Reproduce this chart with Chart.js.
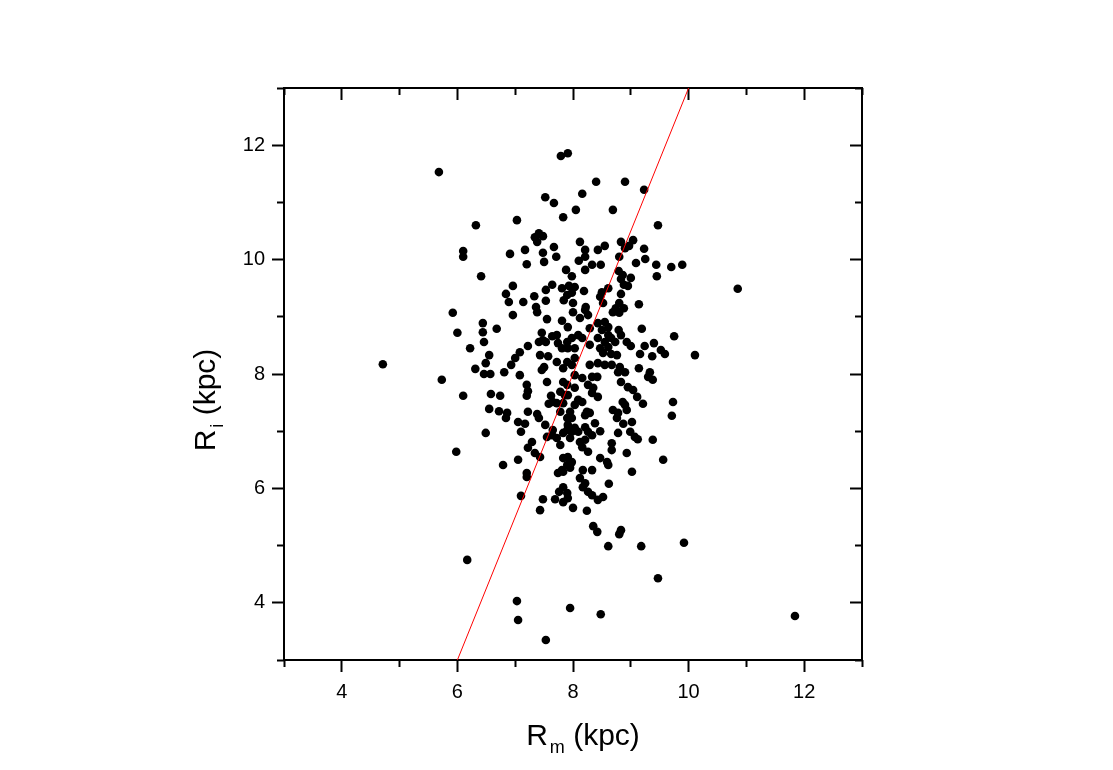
<!DOCTYPE html>
<html>
<head>
<meta charset="utf-8">
<script src="https://cdn.jsdelivr.net/npm/chart.js@4.4.0/dist/chart.umd.min.js"></script>
<style>
  html, body { margin: 0; padding: 0; background: #fff; }
</style>
</head>
<body>
<canvas id="scatterGraph" width="1113" height="770"></canvas>
<script>
// R_m values (x) and R_i values (y)
const rmValues = [
	5.68, 7.79, 7.91, 7.52, 7.67, 7.83, 6.32, 7.03, 7.41, 7.34,
	7.48, 7.38, 6.10, 6.10, 6.91, 7.17, 7.48, 7.67, 7.71, 7.20,
	7.50, 7.88, 6.41, 6.96, 6.84, 6.89, 7.14, 7.33, 7.36, 7.53,
	7.64, 7.53, 7.81, 7.90, 7.84, 8.40, 8.90, 9.23, 8.16, 8.05,
	8.69, 9.47, 8.12, 8.21, 8.21, 8.43, 8.55, 8.83, 9.04, 8.97,
	8.90, 9.23, 8.80, 9.09, 9.25, 8.10, 8.33, 8.48, 8.21, 9.44,
	9.70, 9.89, 9.45, 7.98, 8.79, 8.86, 9.00, 8.83, 8.88, 8.95,
	7.93, 8.03, 7.98, 8.19, 8.61, 8.50, 8.47, 8.83, 8.80, 8.74,
	9.14, 8.22, 8.52, 8.00, 5.92, 6.96, 7.38, 7.55, 7.81, 6.44,
	6.44, 6.68, 6.00, 7.46, 7.48, 7.64, 7.72, 7.41, 7.53, 6.46,
	6.22, 7.22, 7.08, 7.00, 6.55, 7.43, 7.57, 7.74, 7.81, 7.90,
	6.49, 6.93, 7.50, 7.46, 7.72, 7.83, 7.90, 6.31, 6.46, 6.57,
	6.81, 7.08, 5.73, 7.55, 7.20, 7.22, 7.20, 7.83, 7.90, 6.10,
	6.58, 6.74, 7.62, 7.65, 7.58, 7.72, 7.78, 7.86, 7.83, 6.55,
	6.72, 6.86, 6.84, 7.22, 7.38, 7.41, 7.78, 7.90, 7.05, 7.17,
	7.52, 6.49, 7.10, 7.65, 7.64, 7.55, 7.72, 7.90, 7.83, 7.29,
	7.22, 7.34, 7.43, 7.78, 5.98, 7.05, 7.83, 7.90, 7.81, 7.74,
	6.79, 7.20, 8.00, 8.12, 8.21, 8.26, 8.80, 8.88, 8.69, 7.91,
	8.09, 7.98, 8.16, 8.29, 8.43, 8.55, 8.61, 8.50, 8.79, 8.83,
	8.61, 9.19, 9.75, 8.43, 8.55, 8.66, 8.73, 8.29, 8.47, 8.61,
	8.52, 8.66, 8.76, 8.93, 9.00, 9.24, 9.40, 9.52, 9.59, 9.16,
	9.37, 10.11, 7.91, 8.03, 8.03, 7.98, 8.29, 8.43, 8.55, 8.67,
	8.81, 8.78, 8.90, 9.14, 9.33, 9.30, 9.38, 8.03, 8.16, 8.33,
	8.42, 8.26, 8.35, 8.33, 8.43, 8.83, 8.95, 9.04, 9.11, 8.03,
	7.91, 8.09, 8.03, 8.16, 9.21, 9.73, 8.86, 8.90, 8.69, 8.78,
	8.93, 7.95, 7.98, 8.24, 8.29, 8.21, 9.71, 8.76, 9.02, 8.87,
	7.91, 8.03, 8.09, 7.98, 8.21, 8.26, 8.38, 8.47, 8.33, 8.78,
	8.99, 9.07, 9.12, 7.95, 8.12, 8.21, 8.67, 8.67, 8.16, 8.26,
	9.38, 8.93, 7.91, 7.98, 8.47, 8.59, 8.61, 9.56, 7.95, 8.17,
	8.33, 9.02, 7.20, 7.10, 7.48, 7.43, 7.83, 7.83, 7.76, 7.90,
	7.69, 7.83, 7.91, 6.17, 7.03, 7.05, 7.53, 7.95, 8.12, 8.21,
	8.17, 8.26, 8.33, 8.43, 8.52, 8.62, 8.00, 8.24, 8.35, 8.42,
	8.83, 8.80, 8.61, 9.18, 9.92, 9.47, 8.48, 4.71, 10.85, 11.84
];
const riValues = [
	11.53, 11.81, 11.86, 11.09, 10.99, 10.74, 10.60, 10.69, 10.46, 10.39,
	10.41, 10.31, 10.15, 10.05, 10.10, 10.17, 10.12, 10.22, 10.05, 9.92,
	9.96, 9.82, 9.71, 9.54, 9.40, 9.26, 9.26, 9.36, 9.17, 9.47,
	9.56, 9.28, 9.50, 9.38, 9.29, 11.36, 11.36, 11.22, 11.15, 10.87,
	10.87, 10.60, 10.31, 10.17, 10.05, 10.17, 10.24, 10.31, 10.34, 10.24,
	10.20, 10.19, 10.05, 9.94, 10.01, 9.98, 9.91, 9.91, 9.82, 9.91,
	9.87, 9.91, 9.71, 9.71, 9.80, 9.73, 9.68, 9.66, 9.56, 9.54,
	9.54, 9.52, 9.42, 9.45, 9.50, 9.43, 9.35, 9.40, 9.24, 9.15,
	9.22, 9.17, 9.24, 9.24, 9.07, 9.03, 9.08, 8.96, 8.93, 8.89,
	8.73, 8.79, 8.72, 8.72, 8.59, 8.66, 8.68, 8.56, 8.56, 8.56,
	8.45, 8.49, 8.38, 8.28, 8.33, 8.33, 8.31, 8.54, 8.45, 8.56,
	8.19, 8.16, 8.12, 8.07, 8.21, 8.10, 8.21, 8.09, 8.00, 8.00,
	8.03, 7.98, 7.90, 7.86, 7.81, 7.70, 7.62, 7.86, 7.81, 7.62,
	7.65, 7.62, 7.62, 7.51, 7.48, 7.49, 7.69, 7.63, 7.49, 7.39,
	7.35, 7.32, 7.23, 7.34, 7.30, 7.23, 7.34, 7.23, 7.16, 7.13,
	7.11, 6.97, 6.99, 7.02, 6.93, 6.90, 6.88, 7.02, 6.97, 6.81,
	6.71, 6.62, 6.55, 6.76, 6.64, 6.50, 6.53, 6.41, 6.32, 6.27,
	6.41, 6.27, 9.08, 8.98, 9.12, 9.03, 9.07, 9.15, 9.08, 8.82,
	8.68, 8.63, 8.63, 8.80, 8.89, 8.91, 8.82, 8.77, 8.77, 8.68,
	8.68, 8.79, 8.66, 8.63, 8.56, 8.63, 8.56, 8.51, 8.45, 8.47,
	8.37, 8.35, 8.33, 8.56, 8.49, 8.49, 8.54, 8.42, 8.35, 8.35,
	8.31, 8.33, 8.45, 8.45, 8.28, 8.16, 8.16, 8.19, 8.16, 8.16,
	8.12, 8.03, 8.03, 8.10, 8.03, 7.95, 7.90, 7.98, 7.93, 7.95,
	7.95, 7.81, 7.76, 7.67, 7.60, 7.86, 7.77, 7.72, 7.60, 7.76,
	7.63, 7.55, 7.46, 7.51, 7.48, 7.51, 7.51, 7.46, 7.37, 7.32,
	7.37, 7.34, 7.23, 7.34, 7.32, 7.28, 7.27, 7.23, 7.16, 7.13,
	7.11, 7.06, 6.99, 6.99, 7.07, 6.99, 7.14, 7.00, 6.93, 6.97,
	6.99, 6.90, 6.86, 6.88, 6.81, 6.85, 6.79, 6.67, 6.72, 6.64,
	6.85, 6.62, 6.55, 6.46, 6.53, 6.46, 6.41, 6.50, 6.36, 6.32,
	6.32, 6.29, 6.20, 5.87, 5.81, 5.62, 6.29, 6.02, 5.94, 5.92,
	5.81, 5.76, 5.83, 4.75, 4.03, 3.70, 3.35, 3.91, 6.18, 6.09,
	6.02, 5.94, 5.88, 5.80, 5.85, 6.08, 5.66, 5.61, 5.34, 5.24,
	5.27, 5.20, 4.99, 4.99, 5.05, 4.43, 3.80, 8.17, 9.49, 3.77
];
// red line
const fitX = [6, 10];
const fitY = [3, 13];

const xTicks = [4, 6, 8, 10, 12];
const xMinorTicks = [3, 5, 7, 9, 11, 13];
const yTicks = [4, 6, 8, 10, 12];
const yMinorTicks = [3, 5, 7, 9, 11, 13];
const xTitle = ['R', 'm', ' (kpc)'];
const yTitle = ['R', 'i', ' (kpc)'];

const FONT = '"Liberation Sans", Arial, sans-serif';

// scale that only draws tick marks (no labels); negative length = inward
function tickScale(axis, position, ticks, len, weight, border, size){
	return {
		type: 'linear', axis: axis, position: position, weight: weight,
		min: 3, max: 13,
		afterBuildTicks: s => { s.ticks = ticks.map(v => ({value: v})); },
		afterFit: s => { if(axis == 'x'){ s.height = size; } else { s.width = size; } },
		grid: { drawOnChartArea: false, drawTicks: true, tickLength: len, tickWidth: 2, tickColor: '#000' },
		border: { display: border, color: '#000', width: 2 },
		ticks: { display: false }
	};
}

function drawSubTitle(ctx, parts, cx, y){
	const big = '30px ' + FONT, small = '18px ' + FONT;
	ctx.font = big;
	const w0 = ctx.measureText(parts[0]).width;
	const w2 = ctx.measureText(parts[2]).width;
	ctx.font = small;
	const w1 = ctx.measureText(parts[1]).width;
	let x = cx - (w0 + 2 + w1 + w2) / 2;
	ctx.textAlign = 'left';
	ctx.textBaseline = 'alphabetic';
	ctx.font = big;
	ctx.fillText(parts[0], x, y);
	x += w0 + 2;
	ctx.font = small;
	ctx.fillText(parts[1], x, y + 8);
	x += w1;
	ctx.font = big;
	ctx.fillText(parts[2], x, y);
}

const axisTitles = {
	id: 'axisTitles',
	afterDraw(chart){
		const {ctx, chartArea} = chart;
		ctx.save();
		ctx.fillStyle = '#000';
		drawSubTitle(ctx, xTitle, (chartArea.left + chartArea.right) / 2 + 10, chartArea.bottom + 85);
		ctx.translate(chartArea.left - 69, (chartArea.top + chartArea.bottom) / 2 + 26);
		ctx.rotate(-Math.PI / 2);
		drawSubTitle(ctx, yTitle, 0, 0);
		ctx.restore();
	}
};

const points = rmValues.map((v, i) => ({x: v, y: riValues[i]}));
const fitLine = fitX.map((v, i) => ({x: v, y: fitY[i]}));

const data = {
	datasets: [{
		data: fitLine,
		showLine: true,
		borderColor: '#ff0000',
		borderWidth: 1,
		pointRadius: 0,
		order: 0
	}, {
		data: points,
		backgroundColor: '#000',
		borderWidth: 0,
		pointRadius: 4.3,
		order: 1
	}]
};

const config = {
	type: 'scatter',
	data: data,
	options: {
		responsive: false,
		animation: false,
		events: [],
		layout: { padding: { top: 88, right: 251, bottom: 0, left: 0 } },
		plugins: { legend: { display: false }, tooltip: { enabled: false } },
		scales: {
			x: {
				type: 'linear', position: 'bottom', weight: 1,
				min: 3, max: 13,
				afterBuildTicks: s => { s.ticks = xTicks.map(v => ({value: v})); },
				afterFit: s => { s.height = 110; },
				grid: { drawOnChartArea: false, tickLength: 12, tickWidth: 2, tickColor: '#000' },
				border: { display: true, color: '#000', width: 2 },
				ticks: { color: '#000', font: { family: FONT, size: 20 }, padding: 8, maxRotation: 0, autoSkip: false }
			},
			xMinor: tickScale('x', 'bottom', xMinorTicks, 7, 0, false, 0),
			xTop: tickScale('x', 'top', xTicks, -12, 1, true, 0),
			xTopMinor: tickScale('x', 'top', xMinorTicks, -7, 0, false, 0),
			y: {
				type: 'linear', position: 'left', weight: 1,
				min: 3, max: 13,
				afterBuildTicks: s => { s.ticks = yTicks.map(v => ({value: v})); },
				afterFit: s => { s.width = 284; },
				grid: { drawOnChartArea: false, tickLength: 12, tickWidth: 2, tickColor: '#000' },
				border: { display: true, color: '#000', width: 2 },
				ticks: { color: '#000', font: { family: FONT, size: 20 }, padding: 7, autoSkip: false }
			},
			yMinor: tickScale('y', 'left', yMinorTicks, 7, 0, false, 0),
			yRight: tickScale('y', 'right', yTicks, -12, 1, true, 0),
			yRightMinor: tickScale('y', 'right', yMinorTicks, -7, 0, false, 0)
		}
	},
	plugins: [axisTitles]
};

new Chart(document.getElementById('scatterGraph'), config);
</script>
</body>
</html>
